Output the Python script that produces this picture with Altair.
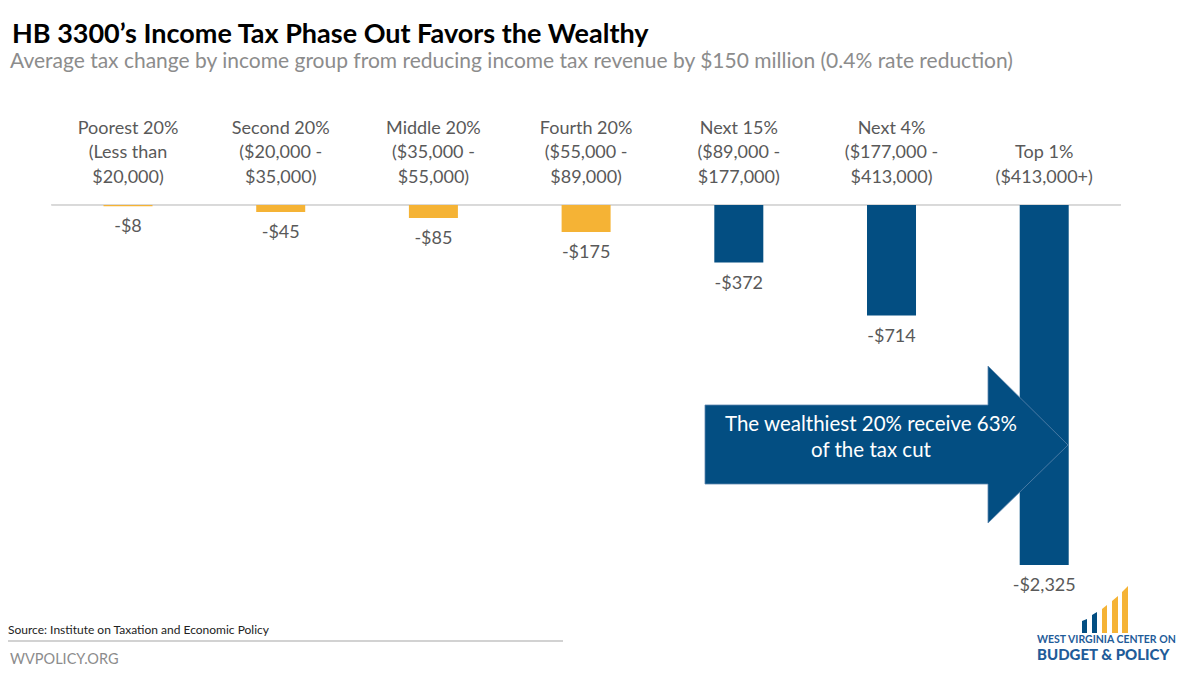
import altair as alt
import pandas as pd

# ---- data ----
groups = ["Poorest 20%", "Second 20%", "Middle 20%", "Fourth 20%", "Next 15%", "Next 4%", "Top 1%"]
income_ranges = ["(Less than\n$20,000)", "($20,000 -\n$35,000)", "($35,000 -\n$55,000)",
                 "($55,000 -\n$89,000)", "($89,000 -\n$177,000)", "($177,000 -\n$413,000)",
                 "($413,000+)"]
values = [-8, -45, -85, -175, -372, -714, -2325]
segments = ["Bottom 80%"] * 4 + ["Top 20%"] * 3

title = "HB 3300\u2019s Income Tax Phase Out Favors the Wealthy"
subtitle = "Average tax change by income group from reducing income tax revenue by $150 million (0.4% rate reduction)"
callout = ["The wealthiest 20% receive 63%", "of the tax cut"]
source = "Source: Institute on Taxation and Economic Policy"
site = "WVPOLICY.ORG"
logo_lines = ["WEST VIRGINIA CENTER ON", "BUDGET & POLICY"]

GOLD = "#F5B335"
BLUE = "#034E82"
GRAY = "#595959"
FONT = "Lato"


def stacked_label(g, r):
    lines = [g] + r.split("\n")
    # bottom-align the label block (3 lines max)
    return "\n".join([" "] * (3 - len(lines)) + lines)


df = pd.DataFrame({
    "idx": list(range(len(groups))),
    "label": [stacked_label(g, r) for g, r in zip(groups, income_ranges)],
    "value": values,
    "segment": segments,
    "vlabel": ["-$" + format(abs(v), ",") for v in values],
})

xs = alt.Scale(domain=[-0.7532, 6.9351], nice=False, zero=False)
ys = alt.Scale(domain=[-2984, 1272], nice=False, zero=False)
X = alt.X("idx:Q", scale=xs, axis=None)

base = alt.Chart(df)

baseline = base.mark_rule(color="#d9d9d9", strokeWidth=1.2).encode(
    x=alt.X(datum=-0.5, type="quantitative", scale=xs, axis=None),
    x2=alt.datum(6.5),
    y=alt.Y(datum=0, type="quantitative", scale=ys, axis=None),
)

bars = base.mark_bar(size=49).encode(
    x=X,
    y=alt.Y("value:Q", scale=ys, axis=None),
    y2=alt.datum(0),
    color=alt.Color("segment:N", scale=alt.Scale(domain=["Bottom 80%", "Top 20%"], range=[GOLD, BLUE]), legend=None),
)

value_text = base.mark_text(font=FONT, fontSize=18, color=GRAY, baseline="middle", dy=21).encode(
    x=X, y=alt.Y("value:Q", scale=ys, axis=None), text="vlabel:N"
)

cat_text = base.mark_text(font=FONT, fontSize=18, color=GRAY, baseline="middle", lineBreak="\n",
                          lineHeight=24.5, dy=-76).encode(
    x=X, y=alt.Y(datum=0, type="quantitative", scale=ys, axis=None), text="label:N"
)

one = alt.Chart(pd.DataFrame({"k": [0]}))

arrow_path = ("M 697 397 L 980 397 L 980 358 L 1060 437 L 980 515 L 980 476 L 697 476 Z")
arrow = one.mark_point(shape=arrow_path, size=4, filled=True, opacity=1, color=BLUE,
                       stroke="#5d86ad", strokeWidth=0.8).encode(x=alt.value(0), y=alt.value(0))

callout_text = one.mark_text(font=FONT, fontSize=20.5, color="white", align="center", baseline="middle",
                             lineBreak="\n", lineHeight=26).encode(
    x=alt.value(863), y=alt.value(417), text=alt.value("\n".join(callout)))

title_text = one.mark_text(font=FONT, fontSize=27, fontWeight="bold", color="black", align="left",
                           baseline="alphabetic").encode(x=alt.value(4), y=alt.value(35), text=alt.value(title))
subtitle_text = one.mark_text(font=FONT, fontSize=21, color="#8C8C8C", align="left",
                              baseline="alphabetic").encode(x=alt.value(2), y=alt.value(60), text=alt.value(subtitle))

source_text = one.mark_text(font=FONT, fontSize=12, color="#222222", align="left", baseline="middle").encode(
    x=alt.value(0), y=alt.value(622), text=alt.value(source))
footer_rule = one.mark_rule(color="#a6a6a6", strokeWidth=1.2).encode(
    x=alt.value(0), x2=alt.value(555), y=alt.value(633))
site_text = one.mark_text(font=FONT, fontSize=14.5, color="#8C8C8C", align="left", baseline="middle").encode(
    x=alt.value(2), y=alt.value(652), text=alt.value(site))

logo_blue = ("M 1074 613 L 1079 611 L 1079 625 L 1074 625 Z "
             "M 1084 607 L 1089 604 L 1089 625 L 1084 625 Z")
logo_gold = ("M 1094 601 L 1099 597 L 1099 625 L 1094 625 Z "
             "M 1104 593 L 1110 588 L 1110 625 L 1104 625 Z "
             "M 1114 584 L 1120 578 L 1120 625 L 1114 625 Z")
logo1 = one.mark_point(shape=logo_blue, size=4, filled=True, opacity=1, color=BLUE, strokeWidth=0).encode(
    x=alt.value(0), y=alt.value(0))
logo2 = one.mark_point(shape=logo_gold, size=4, filled=True, opacity=1, color=GOLD, strokeWidth=0).encode(
    x=alt.value(0), y=alt.value(0))
logo_t1 = one.mark_text(font=FONT, fontSize=10.5, fontWeight="bold", color="#1F5C99", align="left",
                        baseline="alphabetic").encode(x=alt.value(1029), y=alt.value(635), text=alt.value(logo_lines[0]))
logo_t2 = one.mark_text(font=FONT, fontSize=15, fontWeight=900, color="#1F5C99", align="left",
                        baseline="alphabetic").encode(x=alt.value(1029), y=alt.value(652), text=alt.value(logo_lines[1]))

chart = alt.layer(
    baseline, bars, value_text, cat_text, arrow, callout_text,
    title_text, subtitle_text, source_text, footer_rule, site_text,
    logo1, logo2, logo_t1, logo_t2,
).properties(
    width=1184, height=659, padding=0,
    autosize=alt.AutoSizeParams(type="none"),
    background="white",
).configure_view(stroke=None)

chart.save("out.html", embed_options={"renderer": "svg", "actions": False})
